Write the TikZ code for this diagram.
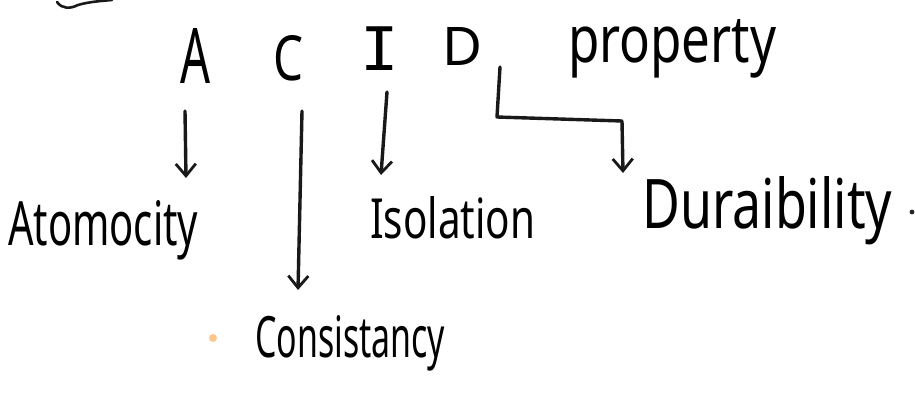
\documentclass[tikz,border=0pt]{standalone}
\usepackage{fontspec}
\setmainfont{Noto Sans}
\newfontfamily\barfont{DejaVu Sans Mono}
\usetikzlibrary{arrows.meta}
\begin{document}
\begin{tikzpicture}[x=1pt,y=-1pt,
  ink/.style={draw=black!90, line width=3.4pt, line cap=round, line join=round},
  arrowline/.style={ink, -{Straight Barb[length=12pt,width=20pt,line width=2.8pt]}},
  letter/.style={inner sep=0pt, anchor=base},
  word/.style={inner sep=0pt, anchor=base west}]
\useasboundingbox (0,0) rectangle (915,410);
\fill[white] (0,0) rectangle (915,410);

% stray stroke from the line above
\draw[ink, line width=2.6pt] (57,2) .. controls (62,9) and (70,9) .. (78,5) .. controls (88,2) and (100,1) .. (112,0);

% the four letters
\node[letter] (A) at (195,83) {\resizebox{30pt}{55pt}{A}};
\node[letter] (C) at (288,80) {\resizebox{30pt}{45pt}{C}};
\node[letter] (I) at (380,70) {\scalebox{6.4}[6]{\barfont I}};
\node[letter] (D) at (463,65) {\resizebox{40pt}{38pt}{D}};
\node[word] (prop) at (568,62) {\resizebox{208pt}{43pt}{property}};

% labels
\node[word] (atom) at (8,245) {\resizebox{190pt}{45pt}{Atomocity}};
\node[word] (iso) at (370,238) {\resizebox{165pt}{42pt}{Isolation}};
\node[word] (dur) at (642,228) {\resizebox{250pt}{52pt}{Duraibility}};
\node[word] (cons) at (255,357) {\resizebox{190pt}{42pt}{Consistancy}};

% arrow end points
\coordinate (aS) at (185,111); \coordinate (aE) at (186,178);
\coordinate (cS) at (302,111); \coordinate (cE) at (298,290);
\coordinate (iS) at (387,92);  \coordinate (iE) at (381,175);
\coordinate (dS) at (500,67);  \coordinate (dM) at (497,117);
\coordinate (dN) at (622,121); \coordinate (dE) at (623,173);

\draw[arrowline] (aS) -- (aE);
\draw[arrowline] (cS) -- (cE);
\draw[arrowline] (iS) -- (iE);
\draw[arrowline] (dS) -- (dM) -- (dN) -- (dE);

% full stop and a faint mark
\fill[black!85] (912,212) circle (2.4pt);
\fill[orange!45!white] (213,338) circle (4pt);
\end{tikzpicture}
\end{document}
